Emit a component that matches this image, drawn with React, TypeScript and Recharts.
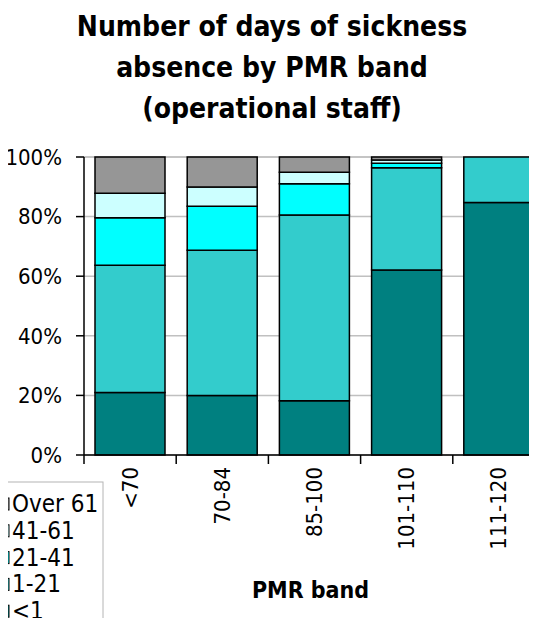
import { BarChart, Bar, XAxis, YAxis, CartesianGrid } from "recharts";

const bands = ["<70", "70-84", "85-100", "101-110", "111-120"];
const lessThan1 = [21.0, 20.0, 18.2, 62.1, 84.7];
const days1to21 = [42.7, 48.7, 62.3, 34.3, 15.3];
const days21to41 = [15.9, 14.8, 10.5, 1.5, 0];
const days41to61 = [8.2, 6.4, 3.9, 1.1, 0];
const over61 = [12.2, 10.1, 5.1, 1.0, 0];
const yTicks = [0, 20, 40, 60, 80, 100];

const series = [
  { key: "lt1", name: "<1", values: lessThan1, color: "#008080" },
  { key: "d1_21", name: "1-21", values: days1to21, color: "#33CCCC" },
  { key: "d21_41", name: "21-41", values: days21to41, color: "#00FFFF" },
  { key: "d41_61", name: "41-61", values: days41to61, color: "#CCFFFF" },
  { key: "over61", name: "Over 61", values: over61, color: "#969696" },
];

const data = bands.map((band, i) => {
  const row: Record<string, string | number> = { band };
  series.forEach((s) => (row[s.key] = s.values[i]));
  return row;
});

const FONT = "'DejaVu Sans Condensed', 'DejaVu Sans', sans-serif";
const CHART_W = 545;
const Y_AXIS_W = 84;
const BAND = (CHART_W - Y_AXIS_W) / bands.length;

function BandTick({ x, y, payload }: any) {
  const ty = y + 12;
  return (
    <g>
      <line x1={x - BAND / 2} x2={x - BAND / 2} y1={y} y2={y + 9} stroke="#000" strokeWidth={1.5} />
      <text
        x={x}
        y={ty}
        transform={`rotate(-90, ${x}, ${ty})`}
        textAnchor="end"
        dominantBaseline="central"
        fontSize={22}
        fontFamily={FONT}
        fill="#000"
      >
        {payload.value}
      </text>
    </g>
  );
}

// legend box sits partly off the left edge, as in the original
function LegendBox() {
  const rows = [...series].reverse();
  return (
    <svg
      width={112}
      height={146}
      style={{ position: "absolute", left: 0, top: 480, zIndex: 2, overflow: "hidden" }}
    >
      <rect x={-10} y={2} width={113} height={160} fill="#fff" stroke="#b4b4b4" strokeWidth={1} />
      {rows.map((s, i) => {
        const cy = 24 + i * 26.8;
        return (
          <g key={s.key}>
            <rect x={0.5} y={cy - 6} width={8.5} height={12} fill={s.color} stroke="#000" strokeWidth={1} />
            <text x={12} y={cy} dominantBaseline="central" fontSize={24} fontFamily={FONT} fill="#000">
              {s.name}
            </text>
          </g>
        );
      })}
    </svg>
  );
}

export default function App() {
  return (
    <div style={{ position: "relative", margin: -8, width: 537, height: 626, overflow: "hidden", background: "#fff" }}>
      <div
        style={{
          position: "absolute",
          top: 6,
          left: 0,
          width: 544,
          textAlign: "center",
          fontFamily: FONT,
          fontWeight: "bold",
          fontSize: 28,
          lineHeight: "41px",
          color: "#000",
          zIndex: 1,
        }}
      >
        Number of days of sickness
        <br />
        absence by PMR band
        <br />
        (operational staff)
      </div>
      <BarChart
        width={CHART_W}
        height={626}
        data={data}
        margin={{ top: 157, right: 0, bottom: 0, left: 0 }}
        barSize={70}
      >
        <CartesianGrid vertical={false} stroke="#c0c0c0" strokeWidth={1.5} />
        <YAxis
          width={Y_AXIS_W}
          domain={[0, 100]}
          ticks={yTicks}
          tickFormatter={(v) => `${v}%`}
          tick={{ fill: "#000", fontSize: 22, fontFamily: FONT }}
          tickSize={8}
          tickMargin={14}
          axisLine={{ stroke: "#000", strokeWidth: 1.5 }}
          tickLine={{ stroke: "#000", strokeWidth: 1.5 }}
        />
        <XAxis
          dataKey="band"
          height={171}
          tickSize={0}
          tickMargin={0}
          tickLine={false}
          interval={0}
          axisLine={{ stroke: "#000", strokeWidth: 1.5 }}
          tick={<BandTick />}
          label={{
            value: "PMR band",
            position: "insideBottom",
            offset: 28,
            dx: -4,
            fill: "#000",
            fontSize: 23,
            fontWeight: "bold",
            fontFamily: FONT,
          }}
        />
        {series.map((s) => (
          <Bar
            key={s.key}
            dataKey={s.key}
            name={s.name}
            stackId="a"
            fill={s.color}
            stroke="#000"
            strokeWidth={1.5}
            isAnimationActive={false}
          />
        ))}
      </BarChart>
      <LegendBox />
    </div>
  );
}
